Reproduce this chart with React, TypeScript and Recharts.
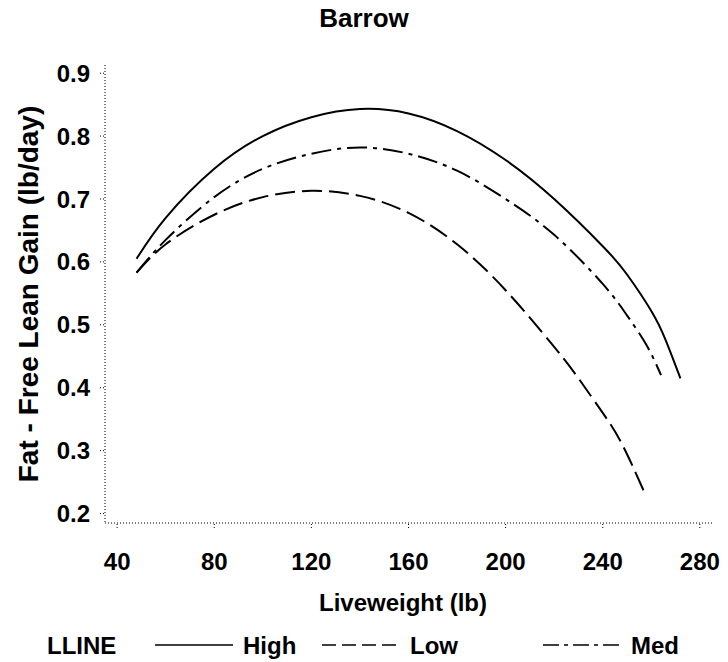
import { LineChart, Line, XAxis, YAxis } from "recharts";

// Fat-free lean gain curves for barrows, by lean line
const highLine = [
  { x: 48, y: 0.605 },
  { x: 60, y: 0.67 },
  { x: 80, y: 0.748 },
  { x: 100, y: 0.8 },
  { x: 120, y: 0.83 },
  { x: 140, y: 0.843 },
  { x: 160, y: 0.836 },
  { x: 180, y: 0.808 },
  { x: 200, y: 0.762 },
  { x: 220, y: 0.7 },
  { x: 240, y: 0.625 },
  { x: 250, y: 0.58 },
  { x: 260, y: 0.522 },
  { x: 266, y: 0.475 },
  { x: 272, y: 0.415 },
];

const medLine = [
  { x: 48, y: 0.583 },
  { x: 60, y: 0.635 },
  { x: 80, y: 0.703 },
  { x: 100, y: 0.748 },
  { x: 120, y: 0.772 },
  { x: 140, y: 0.782 },
  { x: 160, y: 0.772 },
  { x: 180, y: 0.745 },
  { x: 200, y: 0.7 },
  { x: 220, y: 0.643 },
  { x: 240, y: 0.565 },
  { x: 250, y: 0.515 },
  { x: 258, y: 0.468 },
  { x: 264, y: 0.42 },
];

const lowLine = [
  { x: 48, y: 0.583 },
  { x: 60, y: 0.628 },
  { x: 80, y: 0.675 },
  { x: 100, y: 0.703 },
  { x: 120, y: 0.713 },
  { x: 140, y: 0.705 },
  { x: 160, y: 0.678 },
  { x: 180, y: 0.628 },
  { x: 200, y: 0.555 },
  { x: 220, y: 0.465 },
  { x: 230, y: 0.415 },
  { x: 240, y: 0.36 },
  { x: 248, y: 0.31 },
  { x: 257, y: 0.235 },
];

const xTicks = [40, 80, 120, 160, 200, 240, 280];
const yTicks = [0.2, 0.3, 0.4, 0.5, 0.6, 0.7, 0.8, 0.9];

const FONT = "'Liberation Sans', Arial, Helvetica, sans-serif";
const NARROW = "'Liberation Sans Narrow', 'Liberation Sans', Arial, sans-serif";
const DASH_LOW = "20 7";
const DASH_MED = "20 6 4 6";

const YTitle = () => (
  <text
    x={28}
    y={294}
    transform="rotate(-90 28 294)"
    textAnchor="middle"
    dominantBaseline="central"
    fontFamily={NARROW}
    fontSize={28}
    fontWeight="bold"
    fill="#000"
  >
    Fat - Free Lean Gain (lb/day)
  </text>
);

const XTitle = () => (
  <text
    x={403}
    y={602}
    textAnchor="middle"
    dominantBaseline="central"
    fontFamily={FONT}
    fontSize={24}
    fontWeight="bold"
    fill="#000"
  >
    Liveweight  (lb)
  </text>
);

const legendItems = [
  { name: "High", dash: undefined, x: 155 },
  { name: "Low", dash: "14 6", x: 322 },
  { name: "Med", dash: "16 5 4 5", x: 543 },
];

function LineLegend() {
  return (
    <svg width={728} height={40} style={{ display: "block" }}>
      <text x={47} y={20} dominantBaseline="central" fontFamily={FONT} fontSize={24} fontWeight="bold">
        LLINE
      </text>
      {legendItems.map((item) => (
        <g key={item.name}>
          <line
            x1={item.x}
            x2={item.x + 78}
            y1={20}
            y2={20}
            stroke="#000"
            strokeWidth={1.5}
            strokeDasharray={item.dash}
          />
          <text
            x={item.x + 88}
            y={20}
            dominantBaseline="central"
            fontFamily={FONT}
            fontSize={24}
            fontWeight="bold"
          >
            {item.name}
          </text>
        </g>
      ))}
    </svg>
  );
}

export default function App() {
  return (
    <div style={{ position: "absolute", left: 0, top: 0, width: 728, height: 662, background: "#fff" }}>
      <div
        style={{
          position: "absolute",
          left: 0,
          top: 2,
          width: 728,
          textAlign: "center",
          fontFamily: FONT,
          fontSize: 26,
          fontWeight: "bold",
          lineHeight: "32px",
        }}
      >
        Barrow
      </div>
      <LineChart
        width={728}
        height={662}
        margin={{ top: 65, right: 16, bottom: 99, left: 0 }}
      >
        <XAxis
          type="number"
          dataKey="x"
          domain={[35, 285]}
          ticks={xTicks}
          allowDataOverflow
          height={40}
          stroke="#000"
          strokeDasharray="1 2"
          tickSize={5}
          tickMargin={25}
          tick={{ fill: "#000", fontFamily: FONT, fontSize: 24, fontWeight: "bold" }}
          label={<XTitle />}
        />
        <YAxis
          type="number"
          dataKey="y"
          domain={[0.185, 0.913]}
          ticks={yTicks}
          allowDataOverflow
          width={105}
          stroke="#000"
          strokeDasharray="1 2"
          tickSize={5}
          tickMargin={10}
          tickFormatter={(v: number) => v.toFixed(1)}
          tick={{ fill: "#000", fontFamily: FONT, fontSize: 24, fontWeight: "bold" }}
          label={<YTitle />}
        />
        <Line
          data={highLine}
          dataKey="y"
          name="High"
          type="natural"
          stroke="#000"
          strokeWidth={2}
          dot={false}
          isAnimationActive={false}
        />
        <Line
          data={lowLine}
          dataKey="y"
          name="Low"
          type="natural"
          stroke="#000"
          strokeWidth={2}
          strokeDasharray={DASH_LOW}
          dot={false}
          isAnimationActive={false}
        />
        <Line
          data={medLine}
          dataKey="y"
          name="Med"
          type="natural"
          stroke="#000"
          strokeWidth={2}
          strokeDasharray={DASH_MED}
          dot={false}
          isAnimationActive={false}
        />
      </LineChart>
      <div style={{ position: "absolute", left: 0, top: 625 }}>
        <LineLegend />
      </div>
    </div>
  );
}
